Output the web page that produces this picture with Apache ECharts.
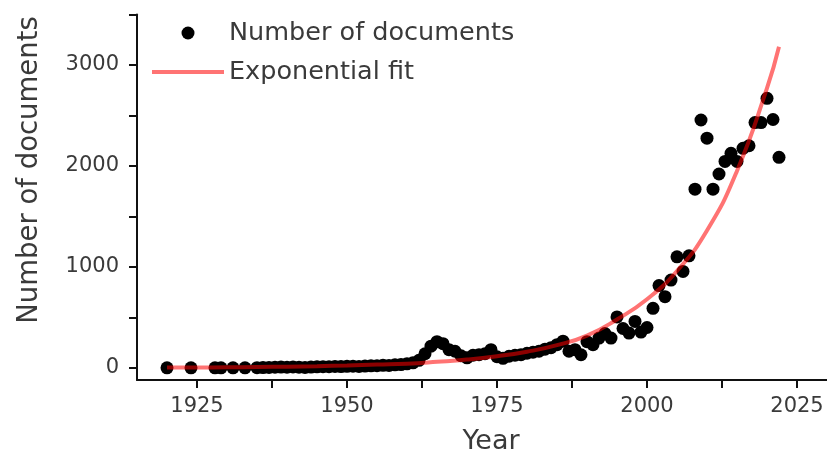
<!DOCTYPE html>
<html>
<head>
<meta charset="utf-8">
<script src="https://cdn.jsdelivr.net/npm/echarts@6/dist/echarts.min.js"></script>
<style>html,body{margin:0;padding:0;background:#fff;}#c{width:827px;height:450px;}</style>
</head>
<body>
<div id="c"></div>
<script>
// Observed documents per year
const docYears = [1920,1924,1928,1929,1931,1933,
  1935,1936,1937,1938,1939,1940,1941,1942,1943,1944,1945,1946,1947,1948,1949,
  1950,1951,1952,1953,1954,1955,1956,1957,1958,1959,1960,1961,1962,1963,1964,
  1965,1966,1967,1968,1969,1970,1971,1972,1973,1974,1975,1976,1977,1978,1979,
  1980,1981,1982,1983,1984,1985,1986,1987,1988,1989,1990,1991,1992,1993,1994,
  1995,1996,1997,1998,1999,2000,2001,2002,2003,2004,2005,2006,2007,2008,2009,
  2010,2011,2012,2013,2014,2015,2016,2017,2018,2019,2020,2021,2022];
const docCounts = [1,1,1,1,1,1,
  2,3,5,6,8,7,9,6,5,8,10,12,11,14,13,
  15,16,14,18,20,22,25,24,30,33,40,50,75,140,215,
  260,240,180,165,120,100,125,130,140,180,110,95,115,125,130,
  145,155,165,185,200,230,265,165,180,130,260,230,295,340,295,
  505,390,345,460,355,400,590,815,705,870,1100,955,1110,1770,2455,
  2275,1770,1920,2045,2125,2045,2175,2200,2430,2430,2670,2460,2085];
// Exponential fit curve at sample years
const fitYears = [1920,1925,1930,1935,1940,1945,1950,1955,1960,1965,1970,1975,1980,1985,1990,1995,2000,2005,2010,2015,2020,2022];
const fitValues = [3,4,6,9,12,17,24,33,42,60,82,115,160,225,320,480,680,960,1360,1950,2770,3180];
// Axis ticks / labels
const xTicks = [1925,1937.5,1950,1962.5,1975,1987.5,2000,2012.5,2025];
const xLabels = [1925,1950,1975,2000,2025];
const yTicks = [0,500,1000,1500,2000,2500,3000,3500];
const yLabels = [0,1000,2000,3000];

const FONT = 'DejaVu Sans';
const TXT = '#3a3a3a';
const FIT = 'rgba(255,0,0,0.55)';
const chart = echarts.init(document.getElementById('c'), null, {renderer:'canvas'});
chart.setOption({
  animation: false,
  backgroundColor: '#fff',
  textStyle: {fontFamily: FONT},
  grid: {left: 137, right: 0, top: 14.5, bottom: 70, containLabel: false, outerBoundsMode: 'none'},
  legend: {
    orient: 'vertical', left: 145, top: 15,
    itemWidth: 72, itemHeight: 13, itemGap: 13,
    textStyle: {fontFamily: FONT, fontSize: 25.5, color: TXT, lineHeight: 26},
    data: [
      {name: 'Number of documents', icon: 'circle'},
      {name: 'Exponential fit', lineStyle: {width: 4, color: FIT}}
    ]
  },
  xAxis: {
    type: 'value', min: 1915, max: 2030,
    splitLine: {show: false},
    axisLine: {onZero: false, lineStyle: {color: '#111', width: 2}},
    axisTick: {show: true, length: 8, lineStyle: {color: '#111', width: 2}, customValues: xTicks},
    axisLabel: {customValues: xLabels, fontSize: 21, color: TXT, margin: 16, fontFamily: FONT,
      formatter: v => String(v)},
    name: 'Year', nameLocation: 'middle', nameGap: 48,
    nameTextStyle: {fontSize: 27, color: TXT, fontFamily: FONT, padding: [0,0,0,18]}
  },
  yAxis: {
    type: 'value', min: -120, max: 3500,
    splitLine: {show: false},
    axisLine: {lineStyle: {color: '#111', width: 2}},
    axisTick: {show: true, length: 8, lineStyle: {color: '#111', width: 2}, customValues: yTicks},
    axisLabel: {customValues: yLabels, fontSize: 21, color: TXT, margin: 18, fontFamily: FONT,
      formatter: v => String(v)}
  },
  graphic: [{
    type: 'text', x: 30, y: 170, rotation: Math.PI/2,
    style: {text: 'Number of documents', fontSize: 27.5, fill: TXT, fontFamily: FONT,
      textAlign: 'center', textVerticalAlign: 'middle'}
  }],
  series: [
    {
      name: 'Number of documents', type: 'scatter',
      symbol: 'circle', symbolSize: 13,
      itemStyle: {color: '#000', opacity: 1},
      data: docYears.map((y, i) => [y, docCounts[i]]),
      z: 2
    },
    {
      name: 'Exponential fit', type: 'line', smooth: true,
      symbol: 'none',
      lineStyle: {color: FIT, width: 4},
      itemStyle: {color: 'rgba(0,0,0,0)'},
      data: fitYears.map((y, i) => [y, fitValues[i]]),
      z: 3
    }
  ]
});
</script>
</body>
</html>
